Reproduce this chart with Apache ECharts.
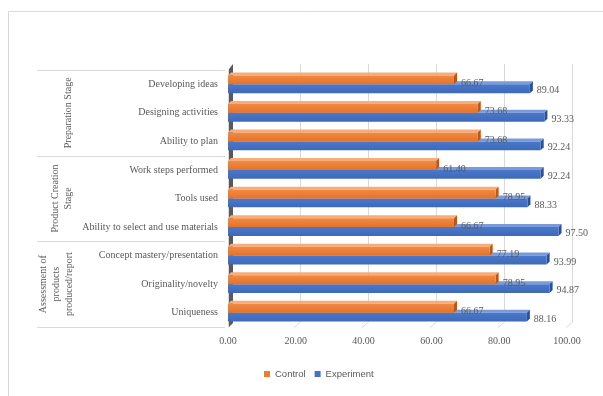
<!DOCTYPE html>
<html>
<head>
<meta charset="utf-8">
<script src="https://cdn.jsdelivr.net/npm/echarts@6/dist/echarts.min.js"></script>
<style>html,body{margin:0;padding:0;background:#fff;}#c{width:603px;height:396px;}</style>
</head>
<body>
<div id="c"></div>
<script>
const categories = ['Developing ideas','Designing activities','Ability to plan','Work steps performed','Tools used','Ability to select and use materials','Concept mastery/presentation','Originality/novelty','Uniqueness'];
const control = [66.67, 73.68, 73.68, 61.40, 78.95, 66.67, 77.19, 78.95, 66.67];
const experiment = [89.04, 93.33, 92.24, 92.24, 88.33, 97.50, 93.99, 94.87, 88.16];
const groupNames = ['Preparation Stage', 'Product Creation\nStage', 'Assessment of\nproducts\nproduced/report'];
const groupStarts = [0, 3, 6];
const groupEnds = [2, 5, 8];
const xTicks = [0, 20, 40, 60, 80, 100];

(function () {
const SERIF = '"Liberation Serif", "DejaVu Serif", serif';
const TXT = '#595959';
const D = 3;

function makeRender(isControl, cFront, cTop, cSide) {
  return function (params, api) {
    const val = api.value(0), cat = api.value(1);
    const p0 = api.coord([0, cat]);
    const p1 = api.coord([val, cat]);
    const band = api.size([0, 1])[1];
    const h = band * 0.31;
    const x0 = p0[0], x1 = p1[0];
    const y0 = isControl ? p0[1] - h : p0[1];
    return {
      type: 'group',
      children: [
        { type: 'polygon', shape: { points: [[x0, y0], [x0 + D, y0 - D], [x1 + D, y0 - D], [x1, y0]] }, style: { fill: cTop } },
        { type: 'polygon', shape: { points: [[x1, y0], [x1 + D, y0 - D], [x1 + D, y0 + h - D], [x1, y0 + h]] }, style: { fill: cSide } },
        { type: 'rect', shape: { x: x0, y: y0, width: x1 - x0, height: h }, style: { fill: new echarts.graphic.LinearGradient(0, 0, 0, 1, [{ offset: 0, color: cFront[0] }, { offset: 1, color: cFront[1] }]) } },
        { type: 'text', style: { text: val.toFixed(2), x: x1 + D + 4, y: isControl ? y0 + h - 1 : y0 + h / 2 + 2, verticalAlign: 'middle', align: 'left', font: '10px ' + SERIF, fill: TXT } }
      ]
    };
  };
}

const chart = echarts.init(document.getElementById('c'));
const GRID = { left: 228, right: 36, top: 70, bottom: 69 };
chart.setOption({
  animation: false,
  backgroundColor: '#fff',
  grid: GRID,
  legend: {
    data: ['Control', 'Experiment'],
    left: 259, top: 364,
    icon: 'rect', itemWidth: 6, itemHeight: 6, itemGap: 9,
    textStyle: { fontSize: 9.5, fontFamily: '"Liberation Sans", Arial, sans-serif', color: TXT }
  },
  xAxis: {
    type: 'value', min: 0, max: 100, interval: 20,
    axisLine: { show: false }, axisTick: { show: false }, splitLine: { show: false },
    axisLabel: { formatter: v => v.toFixed(2), fontFamily: SERIF, fontSize: 10, color: TXT, margin: 9 }
  },
  yAxis: {
    type: 'category', data: categories, inverse: true, offset: 3,
    axisLine: { show: true, lineStyle: { color: '#d9d9d9' } },
    axisTick: { show: false },
    axisLabel: { fontFamily: SERIF, fontSize: 10, color: TXT, margin: 7 }
  },
  series: [
    { name: 'Experiment', type: 'custom', z: 2, itemStyle: { color: '#4472C4' },
      renderItem: makeRender(false, ['#4a78cc', '#3f69b8'], '#7a9bd9', '#2c4f8f'),
      encode: { x: 0, y: 1 }, data: experiment.map((v, i) => [v, i]) },
    { name: 'Control', type: 'custom', z: 3, itemStyle: { color: '#ED7D31' },
      renderItem: makeRender(true, ['#f28a42', '#e5722a'], '#f6ad7a', '#b35a1e'),
      encode: { x: 0, y: 1 }, data: control.map((v, i) => [v, i]) }
  ]
});

const W = 603, H = 396;
const pTop = GRID.top, pBottom = H - GRID.bottom;
const band = (pBottom - pTop) / categories.length;
const yC = i => chart.convertToPixel({ yAxisIndex: 0 }, categories[i]);
const xP = v => chart.convertToPixel({ xAxisIndex: 0 }, v);
const g = [];
g.push({ type: 'line', shape: { x1: 8.5, y1: 11.5, x2: W, y2: 11.5 }, style: { stroke: '#d9d9d9', lineWidth: 1 }, silent: true });
g.push({ type: 'line', shape: { x1: 8.5, y1: 11.5, x2: 8.5, y2: H }, style: { stroke: '#d9d9d9', lineWidth: 1 }, silent: true });
xTicks.forEach(t => {
  const x = Math.round(xP(t) + 4.5) + 0.5;
  if (t > 0) {
    g.push({ type: 'polyline', z: 0, shape: { points: [[x, pTop - 6], [x, pBottom - 5], [x - 7, pBottom + 1]] }, style: { stroke: '#d9d9d9', lineWidth: 1, fill: null }, silent: true });
  }
});
const x0 = xP(0);
g.push({ type: 'polygon', z: 1, shape: { points: [[x0 + 1, pTop - 1], [x0 + 5, pTop - 6], [x0 + 5, pBottom - 4], [x0 + 1, pBottom]] }, style: { fill: '#595959' }, silent: true });
const sepYs = [yC(0) - band / 2];
groupEnds.forEach(e => sepYs.push(yC(e) + band / 2));
sepYs.forEach(y => {
  g.push({ type: 'line', shape: { x1: 37, y1: Math.round(y) + 0.5, x2: x0 - 3, y2: Math.round(y) + 0.5 }, style: { stroke: '#d9d9d9', lineWidth: 1 }, silent: true });
});
const gx = [68, 62, 56];
groupNames.forEach((n, k) => {
  const yc = (yC(groupStarts[k]) + yC(groupEnds[k])) / 2;
  g.push({ type: 'text', x: gx[k], y: yc, rotation: Math.PI / 2, style: { text: n, align: 'center', verticalAlign: 'middle', font: '10px ' + SERIF, fill: TXT, lineHeight: 13 }, silent: true });
});
chart.setOption({ graphic: g });
})();
</script>
</body>
</html>
